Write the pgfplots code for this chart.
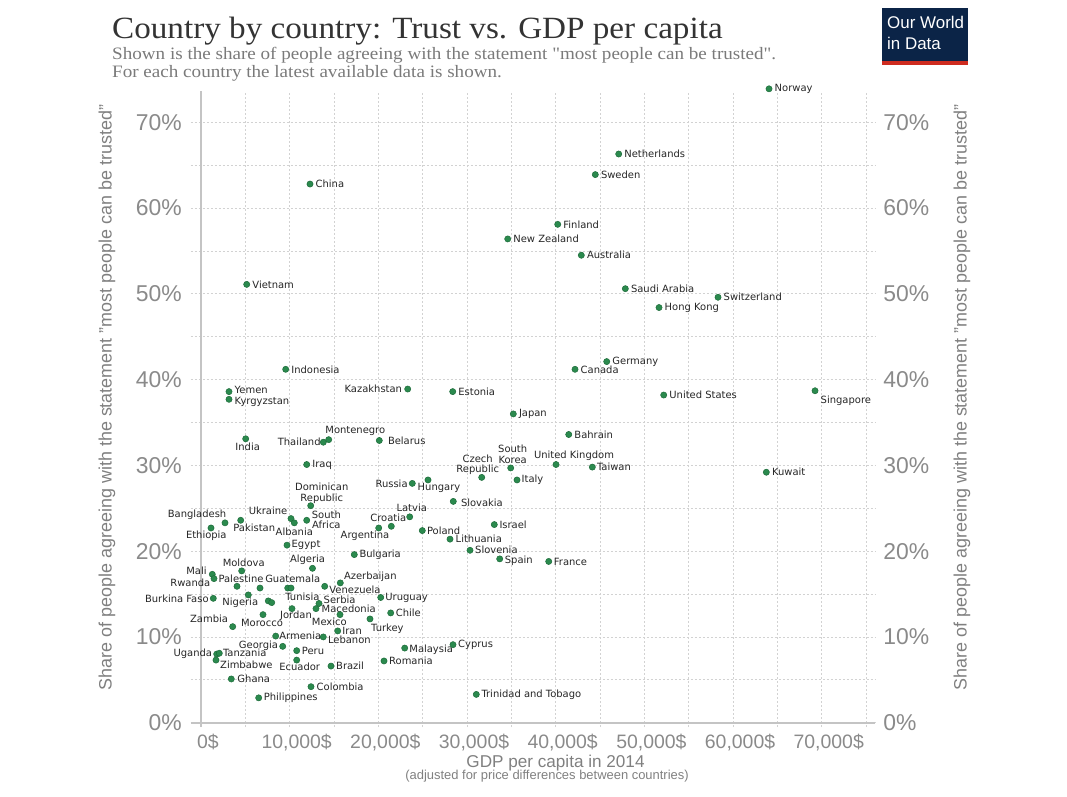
\documentclass[border=0pt]{standalone}
\usepackage{fontspec}
\setmainfont{Liberation Sans}
\newfontfamily\seriffont{Liberation Serif}
\newfontfamily\labfont{DejaVu Sans}
\usepackage{graphicx}
\usepackage{pgfplots}
\usepackage{pgfplotstable}
\pgfplotsset{compat=1.18}
\definecolor{owidnavy}{HTML}{0B2447}
\definecolor{owidred}{HTML}{CE2B1F}
\definecolor{dotgreen}{HTML}{2B8A4E}
\definecolor{dotedge}{HTML}{1D6B3A}
\definecolor{tickgray}{HTML}{8A8A8A}
\definecolor{gridgray}{HTML}{D2D2D2}
\definecolor{axisgray}{HTML}{C4C4C4}
\definecolor{titlegray}{HTML}{333333}
\definecolor{subgray}{HTML}{7A7A7A}
\definecolor{labgray}{HTML}{808080}
\tikzset{lab/.style={inner sep=0.5bp, align=center, text=black!85,
    font=\labfont\fontsize{10}{10.5}\selectfont}}
\newcommand\lbl[6]{\node[lab, anchor=#3, xshift=#4bp, yshift=#5bp] at (axis cs:#1,#2) {#6};}
\pgfplotstableread{
x y
64059 73.9
47108 66.3
44469 63.9
12293 62.8
40229 58.1
34590 56.4
42890 54.5
5154 51.1
47853 50.6
58307 49.6
51653 48.4
45755 42.1
42180 41.2
9552 41.2
3158 38.6
3158 37.7
23311 38.9
28387 38.6
52184 38.2
69247 38.7
35221 36.0
41469 33.6
5041 33.1
13793 32.7
14402 33.0
20109 32.9
11921 30.1
34928 29.7
31657 28.6
40037 30.1
44131 29.8
63755 29.2
35638 28.3
25601 28.3
23830 27.9
28454 25.8
12372 25.3
23537 24.0
10150 23.8
10522 23.3
11921 23.6
2707 23.3
4477 23.6
1128 22.7
33078 23.1
21462 22.9
20041 22.7
24958 22.4
28082 21.4
9699 20.7
30338 20.1
17289 19.6
33687 19.1
39213 18.8
12575 18.0
4590 17.7
1274 17.3
1466 16.8
4060 15.9
6654 15.7
9778 15.7
10150 15.7
15710 16.3
13951 15.9
5334 14.9
1387 14.5
20267 14.6
7590 14.2
7973 14.0
13308 13.9
12970 13.3
10263 13.3
15676 12.6
19060 12.1
21394 12.8
6992 12.6
3575 11.2
15417 10.7
13793 10.0
8425 10.1
9214 8.9
10793 8.4
10793 7.3
14661 6.6
12406 4.2
6507 2.9
3417 5.1
20639 7.2
22973 8.7
28421 9.1
31048 3.3
1771 8.0
2064 8.1
1692 7.3
}\trustdata
\begin{document}
\begin{tikzpicture}
\useasboundingbox (0,0) rectangle (1067bp,797bp);
\begin{axis}[
  at={(190.8bp,70bp)}, anchor=south west, scale only axis,
  width=684.1bp, height=635.6bp,
  xmin=-1150, xmax=76000, ymin=-0.5, ymax=73.6,
  axis line style={draw=none},
  xtick={0,10000,...,70000}, minor xtick={5000,15000,...,75000},
  ytick={0,10,...,70}, minor ytick={5,15,...,65},
  xticklabels={{0\$},{10,000\$},{20,000\$},{30,000\$},{40,000\$},{50,000\$},{60,000\$},{70,000\$}},
  yticklabels={0\%,10\%,20\%,30\%,40\%,50\%,60\%,70\%},
  scaled x ticks=false,
  major tick length=0pt, minor tick length=0pt,
  grid=both,
  major grid style={gridgray, dash pattern=on 2bp off 2bp, line width=0.8bp},
  minor grid style={gridgray, dash pattern=on 2bp off 2bp, line width=0.8bp},
  xticklabel style={font=\fontsize{19.5}{19.5}\selectfont, text=tickgray, xshift=7bp, yshift=-3.5bp},
  yticklabel style={font=\fontsize{23}{23}\selectfont, text=tickgray, xshift=-5.5bp},
  clip=false,
]
\draw[axisgray, line width=1.6bp] (axis cs:-1150,0) -- (axis cs:76000,0);
\draw[axisgray, line width=1.6bp] (axis cs:0,-0.5) -- (axis cs:0,73.6);
\addplot[only marks, mark=*, mark size=3.1bp,
  mark options={fill=dotgreen, draw=dotedge, line width=0.5bp}]
  table[x=x, y=y] {\trustdata};
\lbl{64059}{73.9}{west}{5}{0}{Norway}
\lbl{47108}{66.3}{west}{5}{0}{Netherlands}
\lbl{44469}{63.9}{west}{5}{0}{Sweden}
\lbl{12293}{62.8}{west}{5}{0}{China}
\lbl{40229}{58.1}{west}{5}{0}{Finland}
\lbl{34590}{56.4}{west}{5}{0}{New Zealand}
\lbl{42890}{54.5}{west}{5}{0}{Australia}
\lbl{5154}{51.1}{west}{5}{0}{Vietnam}
\lbl{47853}{50.6}{west}{5}{0}{Saudi Arabia}
\lbl{58307}{49.6}{west}{5}{0}{Switzerland}
\lbl{51653}{48.4}{west}{5}{0}{Hong Kong}
\lbl{45755}{42.1}{west}{5}{0}{Germany}
\lbl{42180}{41.2}{west}{5}{0}{Canada}
\lbl{9552}{41.2}{west}{5}{0}{Indonesia}
\lbl{3158}{38.6}{west}{5}{1.5}{Yemen}
\lbl{3158}{37.7}{west}{5}{-2.5}{Kyrgyzstan}
\lbl{23311}{38.9}{east}{-5}{0}{Kazakhstan}
\lbl{28387}{38.6}{west}{5}{0}{Estonia}
\lbl{52184}{38.2}{west}{5}{0}{United States}
\lbl{69247}{38.7}{west}{5}{-10}{Singapore}
\lbl{35221}{36.0}{west}{5}{0}{Japan}
\lbl{41469}{33.6}{west}{5}{0}{Bahrain}
\lbl{5041}{33.1}{center}{2}{-8}{India}
\lbl{13793}{32.7}{east}{-2}{0}{Thailand}
\lbl{14402}{33.0}{west}{-4}{8.6}{Montenegro}
\lbl{20109}{32.9}{west}{8}{0}{Belarus}
\lbl{11921}{30.1}{west}{5}{0}{Iraq}
\lbl{34928}{29.7}{center}{2}{13.5}{South\\Korea}
\lbl{31657}{28.6}{center}{-4}{12.8}{Czech\\Republic}
\lbl{40037}{30.1}{center}{18}{9}{United Kingdom}
\lbl{44131}{29.8}{west}{4}{0}{Taiwan}
\lbl{63755}{29.2}{west}{5}{0}{Kuwait}
\lbl{35638}{28.3}{west}{4}{0}{Italy}
\lbl{25601}{28.3}{center}{11}{-8}{Hungary}
\lbl{23830}{27.9}{east}{-4}{0}{Russia}
\lbl{28454}{25.8}{west}{7}{-1}{Slovakia}
\lbl{12372}{25.3}{center}{11}{12.3}{Dominican\\Republic}
\lbl{23537}{24.0}{center}{2}{9.3}{Latvia}
\lbl{10150}{23.8}{east}{-3}{7.3}{Ukraine}
\lbl{10522}{23.3}{center}{0}{-9}{Albania}
\lbl{11921}{23.6}{west}{4.5}{0.7}{South\\Africa}
\lbl{2707}{23.3}{east}{2}{8.4}{Bangladesh}
\lbl{4477}{23.6}{west}{-8}{-7.7}{Pakistan}
\lbl{1128}{22.7}{center}{-4.7}{-7.4}{Ethiopia}
\lbl{33078}{23.1}{west}{4.5}{0}{Israel}
\lbl{21462}{22.9}{center}{-3}{8.4}{Croatia}
\lbl{20041}{22.7}{center}{-13.7}{-7.3}{Argentina}
\lbl{24958}{22.4}{west}{4}{0}{Poland}
\lbl{28082}{21.4}{west}{5}{0}{Lithuania}
\lbl{9699}{20.7}{west}{4}{0}{Egypt}
\lbl{30338}{20.1}{west}{4.5}{1}{Slovenia}
\lbl{17289}{19.6}{west}{4.5}{0}{Bulgaria}
\lbl{33687}{19.1}{west}{4.5}{-1.5}{Spain}
\lbl{39213}{18.8}{west}{4.5}{0}{France}
\lbl{12575}{18.0}{center}{-5}{8.7}{Algeria}
\lbl{4590}{17.7}{center}{2}{8.4}{Moldova}
\lbl{1274}{17.3}{east}{-5}{3.3}{Mali}
\lbl{1466}{16.8}{east}{-3}{-4}{Rwanda}
\lbl{4060}{15.9}{center}{4}{7.3}{Palestine}
\lbl{9778}{15.7}{center}{5}{9}{Guatemala}
\lbl{15710}{16.3}{west}{3}{6.6}{Azerbaijan}
\lbl{13951}{15.9}{west}{4}{-3.3}{Venezuela}
\lbl{5334}{14.9}{center}{-8}{-7.7}{Nigeria}
\lbl{1387}{14.5}{east}{-4}{0}{Burkina Faso}
\lbl{20267}{14.6}{west}{4}{0}{Uruguay}
\lbl{7973}{14.0}{west}{13}{5.6}{Tunisia}
\lbl{13308}{13.9}{west}{4}{4}{Serbia}
\lbl{12970}{13.3}{west}{5}{0}{Macedonia}
\lbl{10263}{13.3}{center}{4}{-6.6}{Jordan}
\lbl{15676}{12.6}{center}{-10.7}{-7}{Mexico}
\lbl{19060}{12.1}{west}{0.5}{-9.6}{Turkey}
\lbl{21394}{12.8}{west}{4.5}{0}{Chile}
\lbl{6992}{12.6}{center}{-1}{-8}{Morocco}
\lbl{3575}{11.2}{east}{-4}{7.4}{Zambia}
\lbl{15417}{10.7}{west}{4}{0}{Iran}
\lbl{13793}{10.0}{west}{4}{-3}{Lebanon}
\lbl{8425}{10.1}{west}{3}{0}{Armenia}
\lbl{9214}{8.9}{east}{-4}{0.7}{Georgia}
\lbl{10793}{8.4}{west}{4.5}{0}{Peru}
\lbl{10793}{7.3}{center}{3}{-6.7}{Ecuador}
\lbl{14661}{6.6}{west}{4.5}{0}{Brazil}
\lbl{12406}{4.2}{west}{5}{0}{Colombia}
\lbl{6507}{2.9}{west}{4.5}{0}{Philippines}
\lbl{3417}{5.1}{west}{5.5}{0}{Ghana}
\lbl{20639}{7.2}{west}{4.5}{0}{Romania}
\lbl{22973}{8.7}{west}{4}{-1.5}{Malaysia}
\lbl{28421}{9.1}{west}{4.5}{0}{Cyprus}
\lbl{31048}{3.3}{west}{4.5}{0}{Trinidad and Tobago}
\lbl{1771}{8.0}{east}{-4}{0}{Uganda}
\lbl{2064}{8.1}{west}{3}{0}{Tanzania}
\lbl{1692}{7.3}{west}{3.5}{-5}{Zimbabwe}
\end{axis}
\begin{axis}[
  at={(190.8bp,70bp)}, anchor=south west, scale only axis,
  width=684.1bp, height=635.6bp,
  xmin=-1150, xmax=76000, ymin=-0.5, ymax=73.6,
  axis line style={draw=none},
  xtick=\empty,
  ytick={0,10,...,70},
  yticklabels={0\%,10\%,20\%,30\%,40\%,50\%,60\%,70\%},
  yticklabel pos=right,
  major tick length=0pt,
  yticklabel style={font=\fontsize{23}{23}\selectfont, text=tickgray, xshift=5bp},
]
\end{axis}
% titles
\node[anchor=base west, inner sep=0, text=titlegray] at (112bp,758bp)
  {\scalebox{1.074}[1]{\seriffont\fontsize{31}{31}\selectfont Country by country: Trust vs. GDP per capita}};
\node[anchor=base west, inner sep=0, text=subgray] at (112bp,737.7bp)
  {\scalebox{1.095}[1]{\seriffont\fontsize{17.5}{17.5}\selectfont Shown is the share of people agreeing with the statement "most people can be trusted".}};
\node[anchor=base west, inner sep=0, text=subgray] at (112bp,719.7bp)
  {\scalebox{1.095}[1]{\seriffont\fontsize{17.5}{17.5}\selectfont For each country the latest available data is shown.}};
% logo
\fill[owidnavy] (882bp,732bp) rectangle (968bp,789bp);
\fill[owidred] (882bp,732bp) rectangle (968bp,736bp);
\node[anchor=base west, inner sep=0, text=white] at (887bp,768bp)
  {\fontsize{17}{17}\selectfont Our World};
\node[anchor=base west, inner sep=0, text=white] at (887bp,747bp)
  {\fontsize{17}{17}\selectfont in Data};
% axis labels
\node[text=labgray, inner sep=0] at (555.5bp,34bp)
  {\fontsize{17.2}{17.2}\selectfont GDP per capita in 2014};
\node[text=labgray, inner sep=0] at (547bp,21bp)
  {\fontsize{13}{13}\selectfont (adjusted for price differences between countries)};
\node[text=labgray, inner sep=0, rotate=90] at (107bp,399.5bp)
  {\fontsize{18}{18}\selectfont Share of people agreeing with the statement "most people can be trusted"};
\node[text=labgray, inner sep=0, rotate=90] at (962bp,399.5bp)
  {\fontsize{18}{18}\selectfont Share of people agreeing with the statement "most people can be trusted"};
\end{tikzpicture}
\end{document}
